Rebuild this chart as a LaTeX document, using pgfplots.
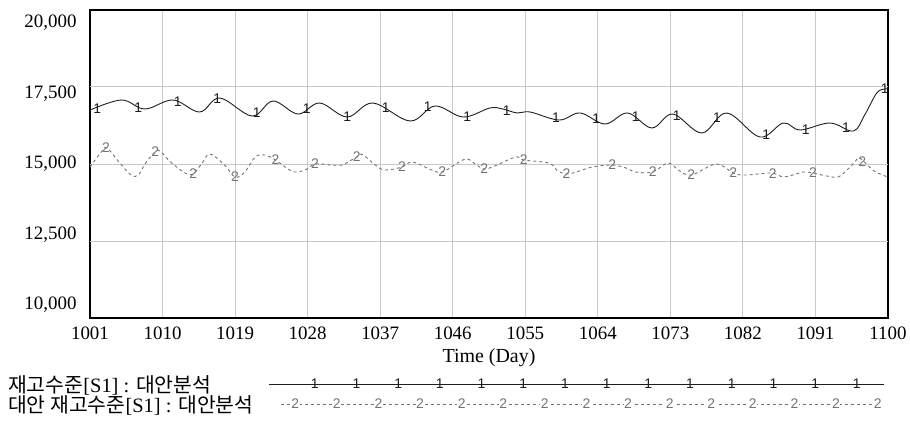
\documentclass[border=0pt]{standalone}
\usepackage{pgfplots}
\usepackage{pgfplotstable}
\pgfplotsset{compat=1.18}
\usepackage{fontspec}
\setmainfont{Liberation Serif}
\newfontfamily\kr{Noto Sans CJK KR}
\newfontfamily\mk{Liberation Sans}
\definecolor{gridgray}{RGB}{200,200,200}
\definecolor{serA}{RGB}{30,30,30}
\definecolor{serB}{RGB}{115,115,115}

% 재고수준[S1] : 대안분석
\pgfplotstableread{
day val
1001.0 16750
1004.9 17078
1007.8 16786
1011.3 17078
1014.6 16688
1017.1 17143
1021.1 16558
1023.7 17045
1026.8 16623
1029.5 16980
1032.9 16526
1036.1 16980
1040.7 16396
1043.8 16883
1047.3 16526
1050.6 16818
1052.2 16786
1054.0 16656
1055.6 16688
1059.2 16428
1061.8 16656
1064.9 16299
1067.7 16656
1070.7 16169
1073.3 16623
1076.9 16006
1080.0 16656
1084.1 15876
1087.0 16331
1089.1 16104
1092.8 16331
1095.7 16071
1097.1 16590
1098.6 17305
1099.6 17435
1100.0 17435
}\tblA

\pgfplotstableread{
day val
1001.9 16786
1007.0 16818
1011.9 17013
1016.8 17110
1021.7 16656
1027.9 16786
1032.9 16526
1037.7 16818
1042.9 16850
1047.8 16526
1052.7 16721
1058.8 16493
1063.8 16461
1068.7 16526
1073.8 16558
1078.8 16494
1084.9 15941
1089.8 16104
1094.8 16169
1099.6 17435
}\mkA

% 대안 재고수준[S1] : 대안분석
\pgfplotstableread{
day val
1001.0 14900
1002.4 15389
1003.1 15519
1004.7 15032
1006.1 14643
1007.0 14643
1007.9 15032
1009.1 15389
1009.7 15422
1011.0 15065
1012.8 14707
1013.8 14675
1015.0 15065
1015.9 15324
1017.7 14967
1019.0 14578
1020.2 14740
1021.5 15227
1022.7 15292
1024.0 15130
1025.4 14870
1026.4 14740
1027.7 14805
1028.9 15000
1030.8 14967
1032.3 14967
1033.0 15065
1034.1 15227
1034.7 15324
1036.4 14967
1037.6 14805
1039.7 14902
1041.0 15065
1043.4 14805
1044.7 14740
1046.8 15065
1047.8 15162
1048.8 15000
1049.9 14837
1051.2 14935
1053.4 15194
1054.1 15227
1054.8 15130
1057.9 15032
1058.9 14805
1060.1 14675
1061.7 14772
1063.3 14902
1065.8 14967
1067.5 14870
1068.7 14740
1070.8 14740
1072.7 15032
1074.0 14805
1075.6 14643
1078.7 15000
1080.8 14707
1082.4 14643
1085.5 14707
1087.0 14578
1088.2 14643
1089.5 14740
1090.7 14707
1092.4 14610
1093.8 14578
1094.9 14805
1095.9 15065
1096.5 15194
1098.1 14805
1099.3 14643
1100.0 14578
}\tblB

\pgfplotstableread{
day val
1003.0 15519
1009.1 15389
1013.8 14675
1019.0 14578
1024.0 15130
1028.9 15000
1034.1 15227
1039.7 14902
1044.7 14740
1049.9 14837
1054.8 15130
1060.1 14675
1065.8 14967
1070.8 14740
1075.6 14643
1080.8 14707
1085.7 14675
1090.7 14707
1096.8 15065
}\mkB

\newcommand{\tickfont}{\fontsize{19}{19}\selectfont}
\newcommand{\markfont}{\mk\fontsize{14}{14}\selectfont}

\begin{document}
\begin{tikzpicture}
\begin{axis}[
  scale only axis, width=798bp, height=308bp,
  xmin=1001, xmax=1100, ymin=10000, ymax=20000,
  xtick={1001,1010,...,1100},
  % value labels sit evenly spaced, slightly inside the frame
  ytick={10420,12710,15000,17290,19580},
  yticklabels={10{,}000,12{,}500,15{,}000,17{,}500,20{,}000},
  scaled y ticks=false, scaled x ticks=false,
  extra y ticks={12500,15000,17500},
  extra y tick labels={},
  extra y tick style={ymajorgrids=true},
  ymajorgrids=false, xmajorgrids=true,
  major grid style={gridgray, line width=1bp},
  axis line style={black, line width=2.2bp},
  major tick length=0pt,
  tick label style={font=\tickfont},
  /pgf/number format/assume math mode=true,
  x tick label style={/pgf/number format/1000 sep={}, yshift=-5bp},
  y tick label style={xshift=-10bp},
  xlabel={Time (Day)},
  xlabel style={font=\fontsize{20}{20}\selectfont, yshift=-3bp},
  legend plot pos=right,
  legend cell align=left,
  legend style={draw=none, fill=none, at={(rel axis cs:0,0)}, anchor=north west,
    xshift=-84bp, yshift=-55bp, inner sep=0pt, row sep=-2bp, column sep=2bp,
    font=\fontsize{20.5}{20.5}\selectfont},
]
\addplot[serA, line width=0.9bp, smooth, tension=0.6, forget plot] table[x=day,y=val]{\tblA};
\addplot[only marks, mark=text, text mark={1}, text mark as node=true,
  text mark style={font=\markfont, text=serA, inner sep=0pt}, forget plot] table[x=day,y=val]{\mkA};
\addplot[serB, line width=0.9bp, dash pattern=on 3bp off 3bp, smooth, tension=0.6, forget plot] table[x=day,y=val]{\tblB};
\addplot[only marks, mark=text, text mark={2}, text mark as node=true,
  text mark style={font=\markfont, text=serB, inner sep=0pt}, forget plot] table[x=day,y=val]{\mkB};

\addlegendimage{legend image code/.code={
  \draw[serA, line width=1bp] (0bp,0bp) -- (615bp,0bp);
  \foreach \k in {0,...,13}{\node[font=\markfont, text=serA, inner sep=0pt] at (42bp+41.7bp*\k,0bp) {1};}
}}
\addlegendentry{\makebox[256bp][l]{{\kr 재고수준}[S1] : {\kr 대안분석}}}
\addlegendimage{legend image code/.code={
  \draw[serB, line width=1bp, dash pattern=on 3bp off 3bp] (12bp,0bp) -- (612bp,0bp);
  \foreach \k in {0,...,14}{\node[font=\markfont, text=serB, fill=white, inner sep=0.5pt] at (22bp+41.6bp*\k,0bp) {2};}
}}
\addlegendentry{\makebox[256bp][l]{{\kr 대안 재고수준}[S1] : {\kr 대안분석}}}
\end{axis}
\pgfresetboundingbox
\path (current axis.south west) ++(-90bp,-105bp) rectangle ++(910bp,423bp);
\end{tikzpicture}
\end{document}
